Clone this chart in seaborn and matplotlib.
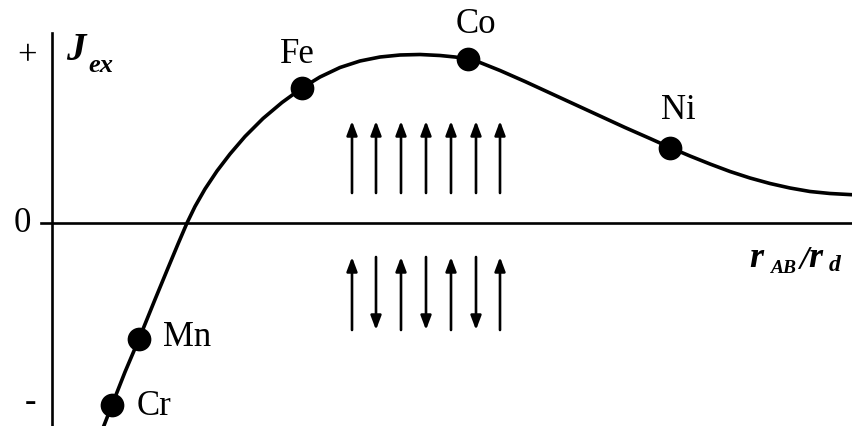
import numpy as np
import pandas as pd
import matplotlib
matplotlib.use("Agg")
import matplotlib.pyplot as plt
import seaborn as sns

# Bethe-Slater curve (x: r_AB/r_d, arbitrary units; y: J_ex, arbitrary units)
curve_x = [1.03, 1.12, 1.25, 1.39, 1.55, 1.68, 1.78, 1.87, 1.95, 2.05, 2.17, 2.30,
           2.45, 2.63, 2.82, 3.02, 3.20, 3.40, 3.60, 3.80, 4.00, 4.20, 4.40, 4.55,
           4.68, 4.80, 5.00, 5.25, 5.50, 5.75, 6.00, 6.25, 6.50, 6.70, 6.90, 7.10,
           7.30, 7.50, 7.70, 7.90, 8.10, 8.30, 8.52]
curve_y = [-2.05, -1.82, -1.49, -1.16, -0.765, -0.45, -0.21, 0.00, 0.165, 0.34, 0.52, 0.69,
           0.865, 1.045, 1.205, 1.35, 1.46, 1.555, 1.62, 1.66, 1.68, 1.685, 1.675, 1.66,
           1.64, 1.605, 1.525, 1.415, 1.30, 1.185, 1.07, 0.955, 0.845, 0.755, 0.67, 0.59,
           0.515, 0.45, 0.395, 0.35, 0.315, 0.295, 0.283]

elements = ["Cr", "Mn", "Fe", "Co", "Ni"]
elem_x = [1.12, 1.39, 3.02, 4.68, 6.70]
elem_y = [-1.82, -1.16, 1.35, 1.64, 0.755]

# spin arrows
arrow_x = [3.52, 3.76, 4.01, 4.26, 4.51, 4.76, 5.00]
ferro_dir = [1, 1, 1, 1, 1, 1, 1]
antiferro_dir = [1, -1, 1, -1, 1, -1, 1]
ferro_span = (0.30, 1.02)
antiferro_span = (-1.07, -0.34)

ytick_labels = ["+", "0", "-"]
ytick_vals = [1.66, 0.00, -1.80]

sns.set_theme(style="white")
plt.rcParams["font.family"] = ["Liberation Serif", "DejaVu Serif"]
plt.rcParams["text.color"] = "black"

fig = plt.figure(figsize=(8.52, 4.26), dpi=100)
ax = fig.add_axes([0, 0, 1, 1])
ax.set_xlim(0, 8.52)
ax.set_ylim(-2.03, 2.23)

df = pd.DataFrame({"x": curve_x, "y": curve_y})
sns.lineplot(data=df, x="x", y="y", sort=False, estimator=None, color="black",
             lw=2.6, ax=ax)
pts = pd.DataFrame({"x": elem_x, "y": elem_y, "el": elements})
sns.scatterplot(data=pts, x="x", y="y", color="black", s=250, edgecolor="black",
                zorder=5, ax=ax)

# axes
for s in ["top", "right"]:
    ax.spines[s].set_visible(False)
ax.spines["left"].set_position(("data", 0.52))
ax.spines["left"].set_bounds(-2.03, 1.90)
ax.spines["bottom"].set_position(("data", 0.0))
ax.spines["bottom"].set_bounds(0.41, 8.52)
for s in ["left", "bottom"]:
    ax.spines[s].set_linewidth(1.9)
    ax.spines[s].set_color("black")
ax.set_xticks([])
ax.set_yticks([])
ax.set_xlabel("")
ax.set_ylabel("")

# y labels
ax.text(0.27, ytick_vals[0], ytick_labels[0], fontsize=25, ha="center", va="center")
ax.text(0.22, ytick_vals[1], ytick_labels[1], fontsize=25, ha="center", va="center")
ax.text(0.31, ytick_vals[2], ytick_labels[2], fontsize=25, ha="center", va="center")

# element labels
lab_pos = {"Cr": (1.37, -1.92, "left"), "Mn": (1.63, -1.23, "left"),
           "Fe": (2.97, 1.60, "center"), "Co": (4.76, 1.90, "center"),
           "Ni": (6.78, 1.04, "center")}
for el in elements:
    lx, ly, ha = lab_pos[el]
    ax.text(lx, ly, el, fontsize=25, ha=ha, va="baseline")

# J_ex label
ax.text(0.66, 1.63, "J", fontsize=28, fontweight="bold", fontstyle="italic",
        va="baseline", ha="left")
ax.text(0.88, 1.51, "ex", fontsize=19, fontweight="bold", fontstyle="italic",
        va="baseline", ha="left")

# r_AB / r_d label
ax.text(7.49, -0.44, "r", fontsize=26, fontweight="bold", fontstyle="italic",
        va="baseline", ha="left")
ax.text(7.70, -0.50, "AB", fontsize=14, fontweight="bold", fontstyle="italic",
        va="baseline", ha="left")
ax.text(7.99, -0.46, "/", fontsize=24, fontweight="bold", fontstyle="italic",
        va="baseline", ha="left")
ax.text(8.08, -0.44, "r", fontsize=26, fontweight="bold", fontstyle="italic",
        va="baseline", ha="left")
ax.text(8.29, -0.48, "d", fontsize=17, fontweight="bold", fontstyle="italic",
        va="baseline", ha="left")

astyle = "-|>,head_length=0.4,head_width=0.15"
def draw_arrows(dirs, span):
    lo, hi = span
    for x, d in zip(arrow_x, dirs):
        start, end = (lo, hi) if d > 0 else (hi, lo)
        ax.annotate("", xy=(x, end), xytext=(x, start),
                    arrowprops=dict(arrowstyle=astyle, lw=1.9, color="black",
                                    mutation_scale=21, shrinkA=0, shrinkB=0))

draw_arrows(ferro_dir, ferro_span)
draw_arrows(antiferro_dir, antiferro_span)

fig.savefig("out.png", dpi=100)
